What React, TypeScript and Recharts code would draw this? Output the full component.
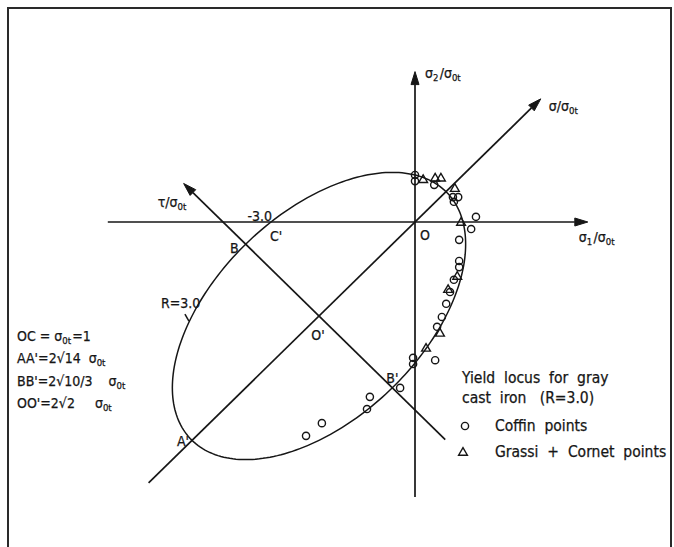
import React from 'react';
import { ScatterChart, Scatter, XAxis, YAxis, ReferenceLine, ReferenceDot } from 'recharts';

const W = 674;
const H = 547;
const FONT = "'DejaVu Sans Condensed', 'Liberation Sans Narrow', 'DejaVu Sans', sans-serif";
const INK = '#161616';

// Strength ratio R = sigma_0c / sigma_0t of the cast iron
const R = 3.0;

// Coffin test points (sigma1/sigma0t, sigma2/sigma0t)
const coffinS1 = [0.0, 0.0, 0.4, 0.79, 0.9, 0.81, 1.27, 1.17, 0.92, 0.92, 0.92, 0.81, 0.73, 0.65, 0.56, 0.46, -0.04, -0.04, 0.42, -0.31, -0.94, -1.0, -1.94, -2.27];
const coffinS2 = [1.0, 0.87, 0.79, 0.53, 0.53, 0.43, 0.11, -0.15, -0.38, -0.83, -0.96, -1.23, -1.49, -1.74, -2.02, -2.23, -2.89, -3.02, -2.94, -3.53, -3.72, -3.98, -4.28, -4.55];

// Grassi + Cornet test points
const grassiS1 = [0.17, 0.42, 0.54, 0.83, 0.96, 0.88, 0.69, 0.52, 0.23];
const grassiS2 = [0.91, 0.94, 0.94, 0.72, 0.0, -1.15, -1.43, -2.36, -2.68];

// Axis segments [start, end] in sigma/sigma0t units; arrowhead at the end
const sigma1Axis = [[-6.4, 0], [3.6, 0]];
const sigma2Axis = [[0, -5.85], [0, 3.2]];
const sigmaAxis = [[-5.55, -5.55], [2.62, 2.62]];
const tauAxis = [[0.63, -4.63], [-4.82, 0.82]];

// Yield locus: s1^2 - s1 s2 + s2^2 + (R-1)(s1+s2) = R, an ellipse centred on (-(R-1), -(R-1))
const centre = -(R - 1);
const k = R + (R - 1) * (R - 1);
const semiMajor = Math.sqrt(2 * k);
const semiMinor = Math.sqrt((2 * k) / 3);
const SQ2 = Math.SQRT2;

const locus = Array.from({ length: 241 }, (_, i) => {
  const t = (i / 240) * Math.PI * 2;
  const u = semiMajor * Math.cos(t);
  const v = semiMinor * Math.sin(t);
  return { x: centre + (u - v) / SQ2, y: centre + (u + v) / SQ2 };
});

const ptA1 = { x: centre - semiMajor / SQ2, y: centre - semiMajor / SQ2 };
const ptB = { x: centre - semiMinor / SQ2, y: centre + semiMinor / SQ2 };
const ptB1 = { x: centre + semiMinor / SQ2, y: centre - semiMinor / SQ2 };
const ptC1 = { x: -R, y: 0 };

const coffin = coffinS1.map((x, i) => ({ x, y: coffinS2[i] }));
const grassi = grassiS1.map((x, i) => ({ x, y: grassiS2[i] }));

const NoDot = () => <g />;

const OpenCircle = (p: any) => (
  <circle cx={p.cx} cy={p.cy} r={3.6} fill="none" stroke={INK} strokeWidth={1.4} />
);

const OpenTriangle = (p: any) => (
  <polygon
    points={`${p.cx},${p.cy - 4.4} ${p.cx - 4.4},${p.cy + 3.2} ${p.cx + 4.4},${p.cy + 3.2}`}
    fill="none"
    stroke={INK}
    strokeWidth={1.4}
  />
);

const axisShape = (p: any) => {
  const { x1, y1, x2, y2 } = p;
  const dx = x2 - x1;
  const dy = y2 - y1;
  const len = Math.sqrt(dx * dx + dy * dy) || 1;
  const ux = dx / len;
  const uy = dy / len;
  const L = 13;
  const hw = 4;
  const bx = x2 - ux * L;
  const by = y2 - uy * L;
  const pts = `${x2},${y2} ${bx - uy * hw},${by + ux * hw} ${bx + uy * hw},${by - ux * hw}`;
  return (
    <g>
      <line x1={x1} y1={y1} x2={bx} y2={by} stroke={INK} strokeWidth={1.7} />
      <polygon points={pts} fill={INK} stroke={INK} strokeWidth={1} />
    </g>
  );
};

const textStyle = {
  fontFamily: FONT,
  fontSize: 14,
  fill: INK,
  stroke: INK,
  strokeWidth: 0.25,
  whiteSpace: 'pre' as const,
};
const legendStyle = { ...textStyle, fontSize: 15.5 };

const Sub = ({ children }: { children: React.ReactNode }) => (
  <>
    <tspan dy={3} fontSize={9.5}>{children}</tspan>
    <tspan dy={-3}>{'\u200a'}</tspan>
  </>
);

const tag = (node: React.ReactNode, dx: number, dy: number, anchor: 'start' | 'middle' | 'end' = 'start') =>
  (p: any) => (
    <text x={p.cx + dx} y={p.cy + dy} textAnchor={anchor} style={textStyle}>
      {node}
    </text>
  );

const rMark = (p: any) => (
  <g>
    <line x1={p.cx - 4} y1={p.cy - 7} x2={p.cx} y2={p.cy} stroke={INK} strokeWidth={1.5} />
    <text x={p.cx - 28} y={p.cy - 13} style={textStyle}>R=3.0</text>
  </g>
);

const seg = (s: number[][]) => [
  { x: s[0][0], y: s[0][1] },
  { x: s[1][0], y: s[1][1] },
];

export default function App() {
  return (
    <div style={{ position: 'fixed', left: 0, top: 0, width: W, height: H, overflow: 'hidden', background: '#fff' }}>
      <div
        style={{
          position: 'absolute',
          left: 7,
          top: 7,
          width: 665,
          height: 620,
          border: '2px solid #2a2a2a',
          boxSizing: 'border-box',
        }}
      />
      <div style={{ position: 'absolute', left: 0, top: 0 }}>
        <ScatterChart width={W} height={H} margin={{ top: 34, right: 19, bottom: 19.5, left: 31 }}>
          <XAxis type="number" dataKey="x" domain={[-8, 5]} allowDataOverflow hide height={0} />
          <YAxis type="number" dataKey="y" domain={[-6.5, 4]} allowDataOverflow hide width={0} />

          <ReferenceLine segment={seg(sigma1Axis)} shape={axisShape} ifOverflow="visible" />
          <ReferenceLine segment={seg(sigma2Axis)} shape={axisShape} ifOverflow="visible" />
          <ReferenceLine segment={seg(sigmaAxis)} shape={axisShape} ifOverflow="visible" />
          <ReferenceLine segment={seg(tauAxis)} shape={axisShape} ifOverflow="visible" />

          <Scatter
            data={locus}
            line={{ stroke: INK, strokeWidth: 1.5 }}
            lineType="joint"
            shape={NoDot}
            isAnimationActive={false}
          />
          <Scatter data={coffin} shape={OpenCircle} isAnimationActive={false} />
          <Scatter data={grassi} shape={OpenTriangle} isAnimationActive={false} />

          {/* axis titles */}
          <ReferenceDot
            x={sigma2Axis[1][0]}
            y={sigma2Axis[1][1]}
            r={0}
            shape={tag(<>σ<Sub>2</Sub>/σ<Sub>0t</Sub></>, 10, 6)}
          />
          <ReferenceDot
            x={sigmaAxis[1][0]}
            y={sigmaAxis[1][1]}
            r={0}
            shape={tag(<>σ/σ<Sub>0t</Sub></>, 8, 12)}
          />
          <ReferenceDot
            x={sigma1Axis[1][0]}
            y={sigma1Axis[1][1]}
            r={0}
            shape={tag(<>σ<Sub>1</Sub>/σ<Sub>0t</Sub></>, -9, 20)}
          />
          <ReferenceDot
            x={tauAxis[1][0]}
            y={tauAxis[1][1]}
            r={0}
            shape={tag(<>τ/σ<Sub>0t</Sub></>, 4, 24, 'end')}
          />

          {/* point labels */}
          <ReferenceDot x={0} y={0} r={0} shape={tag('O', 5, 18)} />
          <ReferenceDot x={ptC1.x} y={ptC1.y} r={0} shape={tag("C'", -1, 19)} />
          <ReferenceDot x={ptC1.x} y={ptC1.y} r={0} shape={tag('-3.0', 1, -1, 'end')} />
          <ReferenceDot x={ptB.x} y={ptB.y} r={0} shape={tag('B', -7, 9, 'end')} />
          <ReferenceDot x={ptB1.x} y={ptB1.y} r={0} shape={tag("B'", 0, -5, 'middle')} />
          <ReferenceDot x={centre} y={centre} r={0} shape={tag("O'", -1, 24, 'middle')} />
          <ReferenceDot x={ptA1.x} y={ptA1.y} r={0} shape={tag("A'", -3, 6, 'end')} />
          <ReferenceDot x={-4.71} y={-2.11} r={0} shape={rMark} />
        </ScatterChart>
      </div>

      <svg width={W} height={H} style={{ position: 'absolute', left: 0, top: 0 }}>
        <g>
          <text x={17} y={341} style={textStyle}>OC = σ<Sub>0t</Sub>=1</text>
          <text x={17} y={363} style={textStyle}>AA'=2√14  σ<Sub>0t</Sub></text>
          <text x={17} y={386} style={textStyle}>BB'=2√10/3    σ<Sub>0t</Sub></text>
          <text x={17} y={408} style={textStyle}>OO'=2√2     σ<Sub>0t</Sub></text>

          <text x={462} y={383} style={legendStyle}>Yield  locus  for  gray</text>
          <text x={462} y={403} style={legendStyle}>cast  iron   (R=3.0)</text>
          <circle cx={465} cy={426} r={3.6} fill="none" stroke={INK} strokeWidth={1.4} />
          <text x={495} y={431} style={legendStyle}>Coffin  points</text>
          <polygon points="463,447.6 458.6,455.2 467.4,455.2" fill="none" stroke={INK} strokeWidth={1.4} />
          <text x={495} y={457} style={legendStyle}>Grassi  +  Cornet  points</text>
        </g>
      </svg>
    </div>
  );
}
